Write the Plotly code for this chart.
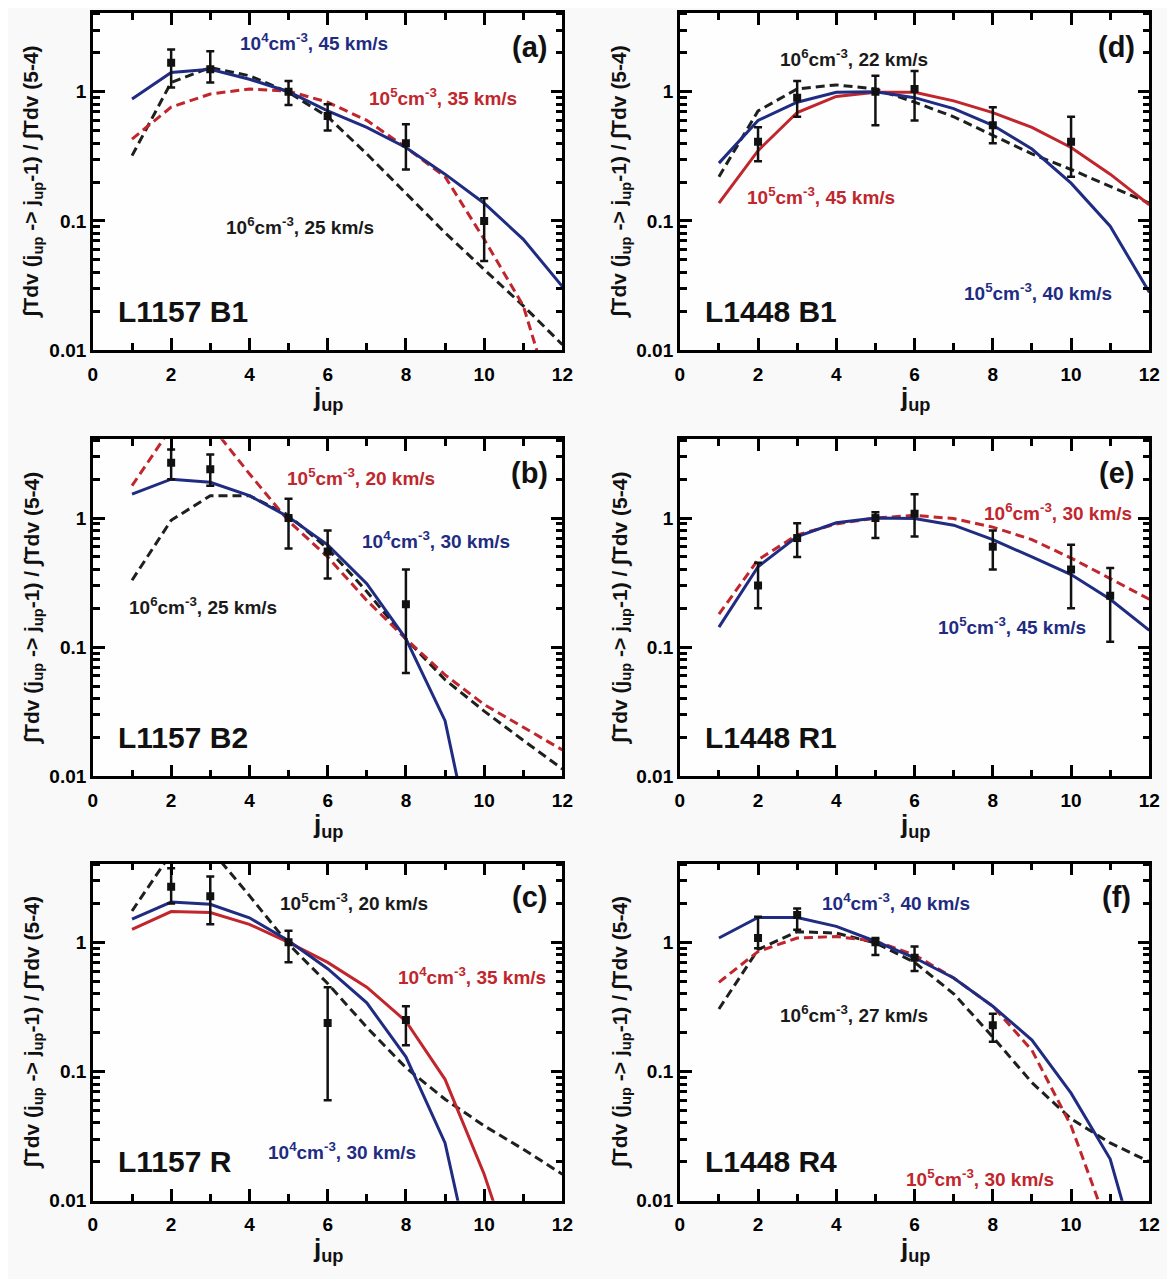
import plotly.graph_objects as go

# ---------------- data ----------------
J_MODEL = [1, 2, 3, 4, 5, 6, 7, 8, 9, 10, 11, 12]

# (a) L1157 B1
A_J = [2, 3, 5, 6, 8, 10]
A_OBS = [1.68, 1.49, 1.0, 0.65, 0.40, 0.10]
A_HI = [2.12, 2.06, 1.21, 0.80, 0.56, 0.15]
A_LO = [1.08, 1.18, 0.79, 0.50, 0.25, 0.049]
A_BLUE = [0.88, 1.41, 1.49, 1.25, 1.0, 0.71, 0.53, 0.37, 0.23, 0.137, 0.072, 0.031]
A_RED = [0.43, 0.76, 0.96, 1.05, 1.01, 0.83, 0.60, 0.37, 0.22, 0.072, 0.022, 0.0022]
A_BLACK = [0.32, 1.18, 1.54, 1.33, 0.99, 0.64, 0.33, 0.164, 0.081, 0.042, 0.022, 0.011]

# (b) L1157 B2
B_J = [2, 3, 5, 6, 8]
B_OBS = [2.68, 2.39, 1.0, 0.55, 0.215]
B_HI = [3.4, 3.1, 1.41, 0.80, 0.40]
B_LO = [2.0, 1.78, 0.58, 0.34, 0.063]
B_BLUE = [1.53, 2.0, 1.89, 1.49, 1.02, 0.62, 0.31, 0.116, 0.027, 0.001, None, None]
B_RED = [1.78, 5.0, 5.3, 2.2, 0.95, 0.50, 0.23, 0.116, 0.061, 0.036, 0.024, 0.016]
B_BLACK = [0.33, 0.96, 1.49, 1.49, 1.05, 0.58, 0.27, 0.116, 0.056, 0.032, 0.019, 0.0114]

# (c) L1157 R
C_J = [2, 3, 5, 6, 8]
C_OBS = [2.7, 2.28, 1.0, 0.237, 0.25]
C_HI = [3.75, 3.24, 1.23, 0.45, 0.32]
C_LO = [2.0, 1.38, 0.70, 0.06, 0.16]
C_BLUE = [1.51, 2.05, 1.97, 1.55, 1.03, 0.625, 0.34, 0.13, 0.028, 0.0012, None, None]
C_RED = [1.26, 1.73, 1.70, 1.38, 1.0, 0.70, 0.45, 0.245, 0.087, 0.016, 0.002, None]
C_BLACK = [1.75, 4.9, 5.3, 2.3, 0.97, 0.48, 0.22, 0.107, 0.061, 0.038, 0.025, 0.016]

# (d) L1448 B1
D_J = [2, 3, 5, 6, 8, 10]
D_OBS = [0.41, 0.90, 1.0, 1.05, 0.55, 0.41]
D_HI = [0.53, 1.21, 1.33, 1.45, 0.76, 0.64]
D_LO = [0.29, 0.64, 0.55, 0.60, 0.40, 0.22]
D_BLUE = [0.28, 0.60, 0.83, 0.99, 1.0, 0.90, 0.74, 0.55, 0.36, 0.196, 0.091, 0.028]
D_RED = [0.137, 0.35, 0.69, 0.92, 0.99, 0.99, 0.85, 0.69, 0.53, 0.37, 0.23, 0.133]
D_BLACK = [0.22, 0.71, 1.05, 1.13, 1.05, 0.83, 0.64, 0.46, 0.33, 0.25, 0.185, 0.137]

# (e) L1448 R1
E_J = [2, 3, 5, 6, 8, 10, 11]
E_OBS = [0.30, 0.70, 1.0, 1.08, 0.60, 0.40, 0.25]
E_HI = [0.45, 0.91, 1.11, 1.53, 0.80, 0.62, 0.41]
E_LO = [0.20, 0.50, 0.70, 0.72, 0.40, 0.20, 0.11]
E_BLUE = [0.143, 0.42, 0.72, 0.92, 1.0, 0.99, 0.88, 0.68, 0.50, 0.365, 0.235, 0.135]
E_RED = [0.18, 0.475, 0.74, 0.90, 1.0, 1.05, 0.99, 0.85, 0.68, 0.49, 0.34, 0.235]

# (f) L1448 R4
F_J = [2, 3, 5, 6, 8]
F_OBS = [1.08, 1.63, 1.0, 0.76, 0.228]
F_HI = [1.58, 1.83, 1.08, 0.93, 0.28]
F_LO = [0.90, 1.25, 0.80, 0.60, 0.17]
F_BLUE = [1.08, 1.56, 1.56, 1.33, 1.02, 0.76, 0.53, 0.32, 0.175, 0.068, 0.021, 0.0018]
F_RED = [0.49, 0.85, 1.08, 1.11, 1.02, 0.80, 0.53, 0.32, 0.146, 0.038, 0.0056, None]
F_BLACK = [0.305, 0.88, 1.21, 1.18, 0.99, 0.70, 0.40, 0.185, 0.082, 0.043, 0.028, 0.020]

# ---------------- styles ----------------
BLUE = "#1f2c82"
RED = "#c0262c"
BLACK = "#1c211d"
FONT = "Liberation Sans"


def lab(dens, vel):
    return "<b>10<sup>%d</sup>cm<sup>-3</sup>, %d km/s</b>" % (dens, vel)


# panel: name, letter, row, col, obs arrays, curves (values, color, dash, label, lx, ly)
PANELS = [
    ("L1157 B1", "(a)", 0, 0, A_J, A_OBS, A_HI, A_LO, [
        (A_BLACK, BLACK, True, lab(6, 25), 0.442, 0.368),
        (A_RED, RED, True, lab(5, 35), 0.746, 0.75),
        (A_BLUE, BLUE, False, lab(4, 45), 0.47, 0.915),
    ]),
    ("L1157 B2", "(b)", 1, 0, B_J, B_OBS, B_HI, B_LO, [
        (B_BLACK, BLACK, True, lab(6, 25), 0.235, 0.506),
        (B_RED, RED, True, lab(5, 20), 0.57, 0.888),
        (B_BLUE, BLUE, False, lab(4, 30), 0.73, 0.70),
    ]),
    ("L1157 R", "(c)", 2, 0, C_J, C_OBS, C_HI, C_LO, [
        (C_BLACK, BLACK, True, lab(5, 20), 0.556, 0.885),
        (C_RED, RED, False, lab(4, 35), 0.807, 0.665),
        (C_BLUE, BLUE, False, lab(4, 30), 0.53, 0.147),
    ]),
    ("L1448 B1", "(d)", 0, 1, D_J, D_OBS, D_HI, D_LO, [
        (D_BLACK, BLACK, True, lab(6, 22), 0.371, 0.865),
        (D_RED, RED, False, lab(5, 45), 0.30, 0.456),
        (D_BLUE, BLUE, False, lab(5, 40), 0.762, 0.171),
    ]),
    ("L1448 R1", "(e)", 1, 1, E_J, E_OBS, E_HI, E_LO, [
        (E_RED, RED, True, lab(6, 30), 0.805, 0.785),
        (E_BLUE, BLUE, False, lab(5, 45), 0.708, 0.447),
    ]),
    ("L1448 R4", "(f)", 2, 1, F_J, F_OBS, F_HI, F_LO, [
        (F_BLACK, BLACK, True, lab(6, 27), 0.371, 0.553),
        (F_RED, RED, True, lab(5, 30), 0.64, 0.068),
        (F_BLUE, BLUE, False, lab(4, 40), 0.46, 0.885),
    ]),
]

W, H = 1175, 1279
COL_PX = [(81, 557), (676, 1152)]
ROW_PX = [(5, 345), (435, 775), (863, 1203)]
YTITLE_X = [-0.128, -0.126]

fig = go.Figure()
annotations = []
layout = {}

for i, (name, letter, r, c, js, obs, hi, lo, curves) in enumerate(PANELS):
    n = i + 1
    xa = "x" if n == 1 else "x%d" % n
    ya = "y" if n == 1 else "y%d" % n
    xdom = "%s domain" % xa
    ydom = "%s domain" % ya

    for vals, color, dashed, label, lx, ly in curves:
        fig.add_trace(go.Scatter(
            x=J_MODEL, y=vals, mode="lines", xaxis=xa, yaxis=ya,
            line=dict(color=color, width=3, dash="9px,5px" if dashed else "solid"),
            connectgaps=False, showlegend=False, hoverinfo="skip"))
        annotations.append(dict(
            text=label, xref=xdom, yref=ydom, x=lx, y=ly,
            xanchor="center", yanchor="middle", showarrow=False,
            font=dict(family=FONT, size=19, color=color if color != BLACK else "#1a1a1a")))

    fig.add_trace(go.Scatter(
        x=js, y=obs, mode="markers", xaxis=xa, yaxis=ya,
        marker=dict(symbol="square", size=8, color="#111"),
        error_y=dict(type="data", symmetric=False,
                     array=[h - o for h, o in zip(hi, obs)],
                     arrayminus=[o - l for o, l in zip(obs, lo)],
                     color="#111", thickness=2.5, width=4),
        showlegend=False))

    x0, x1 = COL_PX[c]
    y0, y1 = ROW_PX[r]
    axis_common = dict(
        showline=True, linewidth=2.5, linecolor="black", mirror="allticks",
        ticks="inside", ticklen=12, tickwidth=3, tickcolor="#000000",
        showgrid=False, zeroline=False,
        tickfont=dict(family=FONT, size=19, color="black", weight="bold"),
    )
    layout["xaxis" if n == 1 else "xaxis%d" % n] = dict(
        axis_common, domain=[x0 / W, x1 / W], anchor=ya, range=[0, 12],
        tickmode="linear", tick0=0, dtick=2, ticklabelstandoff=5,
        minor=dict(tickmode="linear", tick0=0, dtick=1, ticks="inside", ticklen=7,
                   tickwidth=2.5, tickcolor="#000000", showgrid=False))
    layout["yaxis" if n == 1 else "yaxis%d" % n] = dict(
        axis_common, domain=[1 - y1 / H, 1 - y0 / H], anchor=xa, type="log",
        range=[-2, 0.61], dtick=1,
        minor=dict(dtick="D1", ticks="inside", ticklen=7,
                   tickwidth=2.5, tickcolor="#000000", showgrid=False))

    # panel name and letter
    annotations.append(dict(text="<b>%s</b>" % name, xref=xdom, yref=ydom, x=0.05, y=0.115,
                            xanchor="left", yanchor="middle", showarrow=False,
                            font=dict(family=FONT, size=30, color="#111")))
    annotations.append(dict(text="<b>%s</b>" % letter, xref=xdom, yref=ydom, x=0.93, y=0.9,
                            xanchor="center", yanchor="middle", showarrow=False,
                            font=dict(family=FONT, size=29, color="#111")))
    # axis titles
    annotations.append(dict(text="<b>j<sub>up</sub></b>", xref=xdom, yref=ydom, x=0.5,
                            y=-0.145, xanchor="center", yanchor="middle", showarrow=False,
                            font=dict(family=FONT, size=26, color="#111")))
    annotations.append(dict(
        text="<b>\u222bTdv (j<sub>up</sub> -> j<sub>up</sub>-1) / \u222bTdv (5-4)</b>",
        xref=xdom, yref=ydom, x=YTITLE_X[c], y=0.5,
        xanchor="center", yanchor="middle", textangle=-90, showarrow=False,
        font=dict(family=FONT, size=21, color="#111")))

fig.update_layout(
    width=W, height=H, margin=dict(l=0, r=0, t=0, b=0),
    paper_bgcolor="#f9f9f9", plot_bgcolor="#fefefe",
    annotations=annotations, showlegend=False, **layout)

fig.write_html("out.html")
